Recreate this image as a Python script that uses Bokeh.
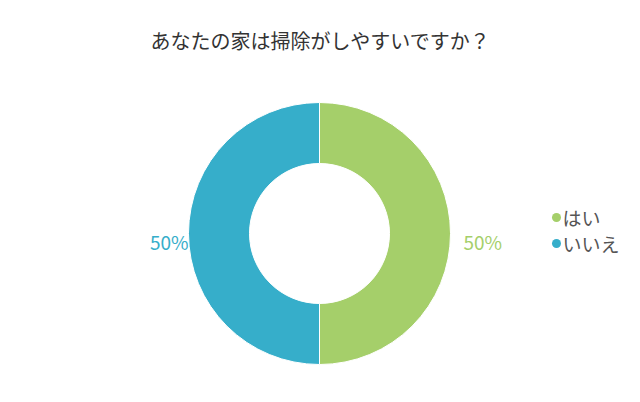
import math
from bokeh.plotting import figure
from bokeh.models import ColumnDataSource, Range1d
from bokeh.core.properties import value
from bokeh.embed import file_html
from bokeh.resources import INLINE

title = "あなたの家は掃除がしやすいですか？"
categories = ["はい", "いいえ"]
values = [50, 50]
colors = ["#a5cf6a", "#36aeca"]

W, H = 624, 386
cx, cy = 319, H - 233
r_out, r_in = 131, 70
FONT = "Noto Sans CJK JP"

p = figure(width=W, height=H, output_backend="svg", toolbar_location=None,
           x_range=Range1d(0, W), y_range=Range1d(0, H), min_border=0)
p.axis.visible = False
p.grid.visible = False
p.outline_line_color = None
p.background_fill_color = "white"

total = sum(values)
starts, ends, mids = [], [], []
acc = 0.0
for v in values:
    a0 = math.pi / 2 - 2 * math.pi * acc / total
    acc += v
    a1 = math.pi / 2 - 2 * math.pi * acc / total
    starts.append(a1)
    ends.append(a0)
    mids.append((a0 + a1) / 2)

src = ColumnDataSource(dict(start=starts, end=ends, color=colors))
p.annular_wedge(x=cx, y=cy, inner_radius=r_in, outer_radius=r_out,
                start_angle="start", end_angle="end", fill_color="color",
                line_color="white", line_width=1, source=src)

# percentage labels
lx, ly, la, lt = [], [], [], []
for v, m in zip(values, mids):
    c = math.cos(m)
    if c >= 0:
        lx.append(cx + 144 * c)
        la.append("left")
    else:
        lx.append(cx + 131 * c)
        la.append("right")
    ly.append(cy + 131 * math.sin(m) - 8)
    lt.append(f"{round(100 * v / total)}%")
lsrc = ColumnDataSource(dict(x=lx, y=ly, t=lt, a=la, c=colors))
p.text(x="x", y="y", text="t", text_align="a", text_baseline="middle",
       text_color="c", text_font=value(FONT), text_font_size="19px", source=lsrc)

# title
p.text(x=[320], y=[H - 40], text=[title], text_align="center", text_baseline="middle",
       text_color="#333333", text_font=value(FONT), text_font_size="20px")

# legend
leg_y = [H - 217, H - 243]
p.scatter(x=[556, 556], y=leg_y, size=9, fill_color=colors, line_color=None)
p.text(x=[562, 562], y=leg_y, text=categories, text_align="left", text_baseline="middle",
       text_color="#555555", text_font=value(FONT), text_font_size="19px")

open("out.html", "w").write(file_html(p, INLINE))
